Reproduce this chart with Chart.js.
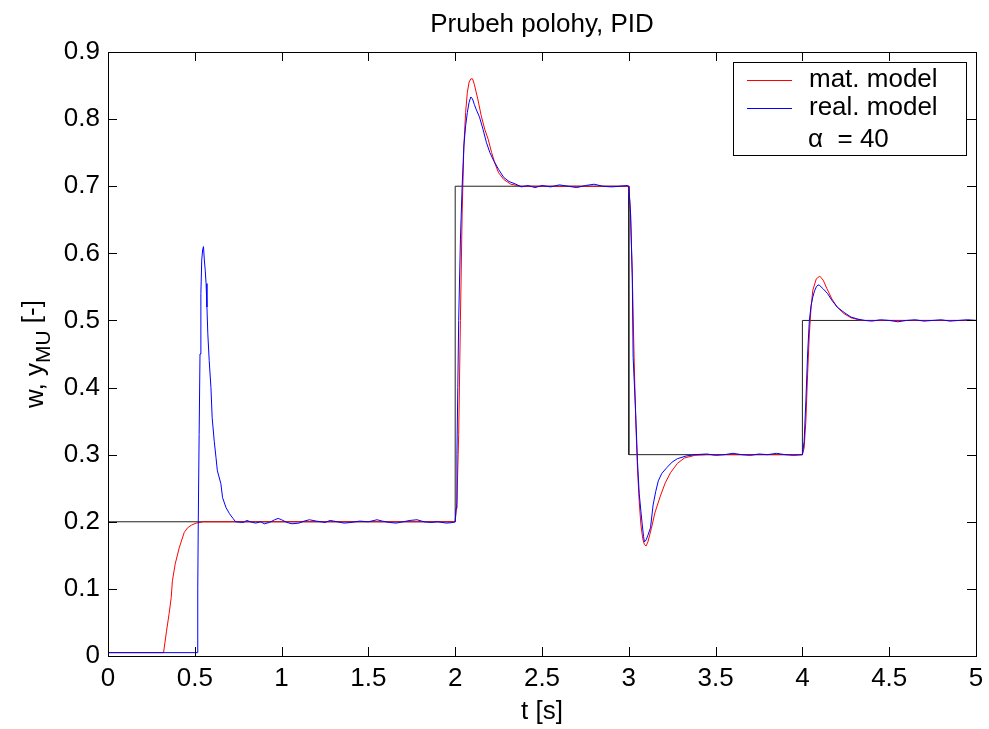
<!DOCTYPE html>
<html>
<head>
<meta charset="utf-8">
<script src="https://cdn.jsdelivr.net/npm/chart.js@4"></script>
<style>
  html, body { margin: 0; padding: 0; background: #fff; }
  #wrap { width: 989px; height: 729px; }
</style>
</head>
<body>
<div id="wrap"><canvas id="posChart" width="989" height="729"></canvas></div>
<script>
// reference signal w
const refTime = [0, 2, 2, 3, 3, 4, 4, 5];
const refValue = [0.2, 0.2, 0.7, 0.7, 0.3, 0.3, 0.5, 0.5];

// mat. model
const matTime = [0, 0.32, 0.337, 0.352, 0.364, 0.371, 0.387, 0.41, 0.439, 0.458, 0.48, 0.508, 0.55,
  2.0, 2.01, 2.02, 2.03, 2.04, 2.05, 2.06, 2.07, 2.08, 2.09, 2.10, 2.11, 2.13, 2.15, 2.17, 2.19, 2.21, 2.23, 2.25, 2.28, 2.32, 2.38,
  3.0, 3.01, 3.02, 3.03, 3.04, 3.05, 3.06, 3.07, 3.08, 3.09, 3.10, 3.11, 3.13, 3.15, 3.18, 3.21, 3.24, 3.28, 3.32, 3.38, 3.45,
  4.0, 4.01, 4.02, 4.03, 4.04, 4.05, 4.06, 4.08, 4.10, 4.12, 4.14, 4.17, 4.20, 4.24, 4.28, 4.34, 5.0];
const matValue = [0.005, 0.005, 0.037, 0.063, 0.087, 0.112, 0.137, 0.161, 0.184, 0.191, 0.195, 0.198, 0.2,
  0.2, 0.23, 0.33, 0.5, 0.66, 0.76, 0.81, 0.84, 0.855, 0.86, 0.86, 0.852, 0.83, 0.805, 0.785, 0.77, 0.75, 0.733, 0.72, 0.71, 0.703, 0.7,
  0.7, 0.66, 0.57, 0.45, 0.35, 0.28, 0.23, 0.195, 0.175, 0.166, 0.164, 0.17, 0.19, 0.213, 0.237, 0.258, 0.273, 0.287, 0.295, 0.299, 0.3,
  0.3, 0.31, 0.35, 0.42, 0.48, 0.52, 0.545, 0.562, 0.566, 0.56, 0.548, 0.532, 0.52, 0.51, 0.504, 0.5, 0.5];

// real. model
const realTime = [0, 0.514, 0.517, 0.52, 0.525, 0.53, 0.535, 0.54, 0.545, 0.55, 0.555, 0.56, 0.565, 0.57, 0.575, 0.583, 0.593,
  0.60, 0.612, 0.622, 0.63, 0.65, 0.66, 0.68, 0.70, 0.72, 0.735, 0.78, 0.80, 0.82, 0.85, 0.88, 0.90, 0.93, 0.96, 0.98, 1.0,
  1.03, 1.06, 1.10, 1.13, 1.16, 1.20, 1.25, 1.28, 1.32, 1.36, 1.40, 1.45, 1.50, 1.55, 1.58, 1.62, 1.66, 1.70, 1.74, 1.78,
  1.82, 1.86, 1.90, 1.95, 1.99,
  2.0, 2.005, 2.01, 2.015, 2.02, 2.03, 2.04, 2.05, 2.06, 2.07, 2.08, 2.09, 2.10, 2.11, 2.12, 2.14, 2.16, 2.18, 2.20, 2.22,
  2.25, 2.28, 2.31, 2.35, 2.38, 2.42, 2.46, 2.50, 2.55, 2.60, 2.65, 2.70, 2.75, 2.80, 2.85, 2.90, 2.95, 2.99,
  3.0, 3.01, 3.02, 3.025, 3.04, 3.05, 3.06, 3.07, 3.077, 3.085, 3.09, 3.10, 3.11, 3.125, 3.14, 3.155, 3.17, 3.19, 3.22,
  3.25, 3.28, 3.33, 3.38, 3.45, 3.50, 3.55, 3.60, 3.65, 3.70, 3.75, 3.80, 3.85, 3.90, 3.95,
  4.0, 4.01, 4.02, 4.03, 4.04, 4.05, 4.06, 4.07, 4.08, 4.09, 4.10, 4.12, 4.145, 4.17, 4.20, 4.24, 4.28, 4.32, 4.36, 4.40,
  4.45, 4.50, 4.55, 4.60, 4.65, 4.70, 4.75, 4.80, 4.85, 4.90, 4.95, 5.0];
const realValue = [0.005, 0.005, 0.1, 0.2, 0.33, 0.45, 0.54, 0.59, 0.605, 0.61, 0.59, 0.575, 0.555, 0.52, 0.48, 0.44, 0.40,
  0.355, 0.32, 0.296, 0.276, 0.257, 0.236, 0.221, 0.212, 0.205, 0.2, 0.199, 0.202, 0.2, 0.198, 0.2, 0.197, 0.199, 0.203, 0.205, 0.203,
  0.199, 0.197, 0.198, 0.201, 0.203, 0.201, 0.199, 0.202, 0.2, 0.198, 0.199, 0.201, 0.2, 0.203, 0.201, 0.199, 0.198, 0.2, 0.202, 0.203,
  0.2, 0.199, 0.2, 0.198, 0.199,
  0.2, 0.22, 0.3, 0.4, 0.5, 0.62, 0.7, 0.76, 0.79, 0.81, 0.825, 0.833, 0.83, 0.822, 0.815, 0.803, 0.785, 0.765, 0.75, 0.739,
  0.725, 0.713, 0.707, 0.703, 0.699, 0.701, 0.698, 0.701, 0.699, 0.702, 0.7, 0.698, 0.701, 0.703, 0.7, 0.699, 0.7, 0.701,
  0.7, 0.66, 0.565, 0.445, 0.36, 0.29, 0.242, 0.215, 0.197, 0.178, 0.17, 0.173, 0.18, 0.191, 0.225, 0.245, 0.261, 0.272, 0.281,
  0.289, 0.294, 0.298, 0.3, 0.301, 0.299, 0.3, 0.302, 0.3, 0.299, 0.301, 0.3, 0.302, 0.3, 0.299,
  0.3, 0.32, 0.38, 0.45, 0.5, 0.522, 0.535, 0.544, 0.55, 0.553, 0.552, 0.547, 0.54, 0.53, 0.52, 0.512, 0.505, 0.502, 0.5, 0.499,
  0.501, 0.5, 0.498, 0.5, 0.501, 0.499, 0.5, 0.501, 0.499, 0.5, 0.501, 0.5];

const xTicks = [0, 0.5, 1, 1.5, 2, 2.5, 3, 3.5, 4, 4.5, 5];
const yTicks = [0, 0.1, 0.2, 0.3, 0.4, 0.5, 0.6, 0.7, 0.8, 0.9];

const FONT = "Arial, 'Liberation Sans', Helvetica, sans-serif";

function toPoints(ts, vs) {
  return ts.map((t, i) => ({ x: t, y: vs[i] }));
}

// MATLAB style box, inward ticks, titles and legend
const matlabFrame = {
  id: "matlabFrame",
  afterDraw: (chart) => {
    const { ctx, chartArea } = chart;
    const { left, right, top, bottom } = chartArea;
    const xs = chart.scales.x, ys = chart.scales.y;
    ctx.save();
    ctx.strokeStyle = "#000";
    ctx.lineWidth = 1;
    ctx.strokeRect(Math.round(left) + 0.5, Math.round(top) + 0.5, Math.round(right - left), Math.round(bottom - top));
    const tl = 9;
    ctx.beginPath();
    xTicks.forEach((v) => {
      const px = Math.round(xs.getPixelForValue(v)) + 0.5;
      ctx.moveTo(px, bottom); ctx.lineTo(px, bottom - tl);
      ctx.moveTo(px, top); ctx.lineTo(px, top + tl);
    });
    yTicks.forEach((v) => {
      const py = Math.round(ys.getPixelForValue(v)) + 0.5;
      ctx.moveTo(left, py); ctx.lineTo(left + tl, py);
      ctx.moveTo(right, py); ctx.lineTo(right - tl, py);
    });
    ctx.stroke();

    ctx.fillStyle = "#000";
    ctx.textAlign = "center";
    ctx.textBaseline = "middle";
    ctx.font = "26px " + FONT;
    const cx = (left + right) / 2;
    ctx.fillText("Prubeh polohy, PID", cx, 25);
    ctx.fillText("t [s]", cx, 712);

    // y label with subscript
    ctx.save();
    ctx.translate(36, (top + bottom) / 2);
    ctx.rotate(-Math.PI / 2);
    const big = "26px " + FONT, small = "21px " + FONT;
    const parts = [["w, y", big, 0], ["MU", small, 8], [" [-]", big, -3]];
    let total = 0;
    parts.forEach((p) => { ctx.font = p[1]; total += ctx.measureText(p[0]).width; });
    let x = -total / 2;
    ctx.textAlign = "left";
    parts.forEach((p) => {
      ctx.font = p[1];
      ctx.fillText(p[0], x, p[2]);
      x += ctx.measureText(p[0]).width;
    });
    ctx.restore();

    // legend box
    const lx = 733, ly = 62, lw = 233, lh = 93;
    ctx.fillStyle = "#fff";
    ctx.fillRect(lx, ly, lw, lh);
    ctx.strokeRect(lx + 0.5, ly + 0.5, lw, lh);
    ctx.lineWidth = 1;
    ctx.strokeStyle = "#ff0000";
    ctx.beginPath(); ctx.moveTo(747, 80.5); ctx.lineTo(792, 80.5); ctx.stroke();
    ctx.strokeStyle = "#0000ff";
    ctx.beginPath(); ctx.moveTo(747, 108.5); ctx.lineTo(792, 108.5); ctx.stroke();
    ctx.fillStyle = "#000";
    ctx.textAlign = "left";
    ctx.font = "26px " + FONT;
    ctx.fillText("mat. model", 809, 80);
    ctx.fillText("real. model", 809, 108);
    ctx.fillText("\u03B1  = 40", 808, 140);
    ctx.restore();
  },
};

new Chart(document.getElementById("posChart").getContext("2d"), {
  type: "line",
  data: {
    datasets: [
      {
        label: "real. model",
        data: toPoints(realTime, realValue),
        borderColor: "#0000ff",
        borderWidth: 1,
        pointRadius: 0,
        tension: 0,
      },
      {
        label: "mat. model",
        data: toPoints(matTime, matValue),
        borderColor: "#ff0000",
        borderWidth: 1,
        pointRadius: 0,
        tension: 0,
      },
      {
        label: "w",
        data: toPoints(refTime, refValue),
        borderColor: "#222",
        borderWidth: 1,
        pointRadius: 0,
        tension: 0,
      },
    ],
  },
  options: {
    responsive: false,
    animation: false,
    layout: { padding: { top: 52, right: 13, left: 0, bottom: 0 } },
    plugins: {
      legend: { display: false },
      tooltip: { enabled: false },
    },
    scales: {
      x: {
        type: "linear",
        min: 0,
        max: 5,
        afterFit: (scale) => { scale.height = 73; scale.paddingRight = 0; scale.paddingLeft = 0; },
        grid: { display: false, drawTicks: false },
        border: { display: false },
        ticks: {
          stepSize: 0.5,
          padding: 7,
          color: "#000",
          maxRotation: 0,
          font: { size: 26, family: FONT },
          callback: (v) => String(Math.round(v * 10) / 10),
        },
      },
      y: {
        type: "linear",
        min: 0,
        max: 0.9,
        afterFit: (scale) => { scale.width = 108; scale.paddingTop = 0; scale.paddingBottom = 0; },
        grid: { display: false, drawTicks: false },
        border: { display: false },
        ticks: {
          stepSize: 0.1,
          padding: 8,
          color: "#000",
          font: { size: 26, family: FONT },
          callback: (v) => String(Math.round(v * 10) / 10),
        },
      },
    },
  },
  plugins: [matlabFrame],
});
</script>
</body>
</html>
